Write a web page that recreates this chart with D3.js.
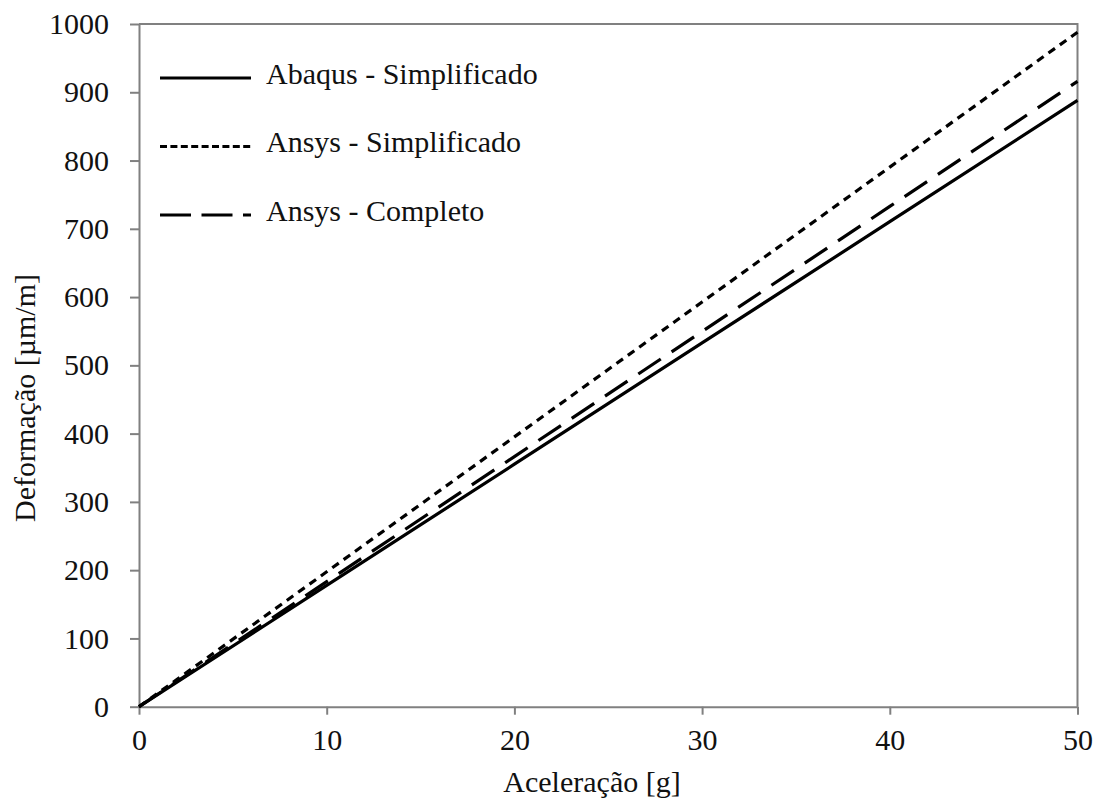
<!DOCTYPE html>
<html>
<head>
<meta charset="utf-8">
<script src="https://cdn.jsdelivr.net/npm/d3@7/dist/d3.min.js"></script>
<style>
  html, body { margin: 0; padding: 0; background: #fff; }
  svg text { font-family: "Liberation Serif", "Times New Roman", serif; fill: #111; }
</style>
</head>
<body>
<svg id="chart" width="1100" height="805"></svg>
<script>
// Acceleration [g] sample points
const acceleration = [0, 10, 20, 30, 40, 50];

// Strain [µm/m] for each model
const abaqusSimplificado = [0, 177.6, 355.2, 532.8, 710.4, 888];
const ansysSimplificado  = [0, 197.6, 395.2, 592.8, 790.4, 988];
const ansysCompleto      = [0, 183.2, 366.4, 549.6, 732.8, 916];

const seriesNames = ["Abaqus - Simplificado", "Ansys - Simplificado", "Ansys - Completo"];

const xTicks = [0, 10, 20, 30, 40, 50];
const yTicks = [0, 100, 200, 300, 400, 500, 600, 700, 800, 900, 1000];

const svg = d3.select("#chart");
const plotLeft = 139, plotRight = 1077.5, plotTop = 24, plotBottom = 706.7;
const axisColor = "#808080";

const x = d3.scaleLinear().domain([0, 50]).range([plotLeft, plotRight]);
const y = d3.scaleLinear().domain([0, 1000]).range([plotBottom, plotTop]);

// frame (top and right borders)
svg.append("path")
  .attr("d", `M${plotLeft},${plotTop}H${plotRight}V${plotBottom}`)
  .attr("fill", "none").attr("stroke", axisColor).attr("stroke-width", 2);

// x axis
const xAxis = svg.append("g")
  .attr("transform", `translate(0,${plotBottom})`)
  .call(d3.axisBottom(x).tickValues(xTicks).tickSize(8).tickSizeOuter(0).tickPadding(14).tickFormat(d3.format("d")));
xAxis.select(".domain").attr("stroke", axisColor).attr("stroke-width", 2);
xAxis.selectAll(".tick line").attr("stroke", axisColor).attr("stroke-width", 2);
xAxis.selectAll(".tick text")
  .attr("font-size", 30).attr("fill", "#111")
  .style("font-family", "'Liberation Serif', serif");

// y axis
const yAxis = svg.append("g")
  .attr("transform", `translate(${plotLeft},0)`)
  .call(d3.axisLeft(y).tickValues(yTicks).tickSize(9).tickSizeOuter(0).tickPadding(21).tickFormat(d3.format("d")));
yAxis.select(".domain").attr("stroke", axisColor).attr("stroke-width", 2);
yAxis.selectAll(".tick line").attr("stroke", axisColor).attr("stroke-width", 2);
yAxis.selectAll(".tick text")
  .attr("font-size", 30).attr("fill", "#111")
  .style("font-family", "'Liberation Serif', serif");

// axis titles
svg.append("text")
  .attr("x", 592).attr("y", 792)
  .attr("text-anchor", "middle").attr("font-size", 30)
  .text("Aceleração [g]");
svg.append("text")
  .attr("transform", "translate(35,398) rotate(-90)")
  .attr("text-anchor", "middle").attr("font-size", 30)
  .text("Deformação [µm/m]");

// series lines
const series = [
  { name: seriesNames[0], values: abaqusSimplificado, dash: null, legendDash: null },
  { name: seriesNames[1], values: ansysSimplificado, dash: "8,6", legendDash: "7,3.4" },
  { name: seriesNames[2], values: ansysCompleto, dash: "27,13", legendDash: "31,10.5" }
];

const line = d3.line()
  .x((d, i) => x(acceleration[i]))
  .y(d => y(d));

svg.append("g").selectAll("path")
  .data(series)
  .join("path")
  .attr("d", s => line(s.values))
  .attr("fill", "none")
  .attr("stroke", "#000")
  .attr("stroke-width", 3.2)
  .attr("stroke-dasharray", s => s.dash);

// legend
const legendRows = [78, 146.5, 215];
const legend = svg.append("g");
series.forEach((s, i) => {
  legend.append("line")
    .attr("x1", 160).attr("x2", 251)
    .attr("y1", legendRows[i]).attr("y2", legendRows[i])
    .attr("stroke", "#000").attr("stroke-width", 3.2)
    .attr("stroke-dasharray", s.legendDash);
  legend.append("text")
    .attr("x", 266).attr("y", legendRows[i] + 5.5)
    .attr("font-size", 30)
    .text(s.name);
});
</script>
</body>
</html>
